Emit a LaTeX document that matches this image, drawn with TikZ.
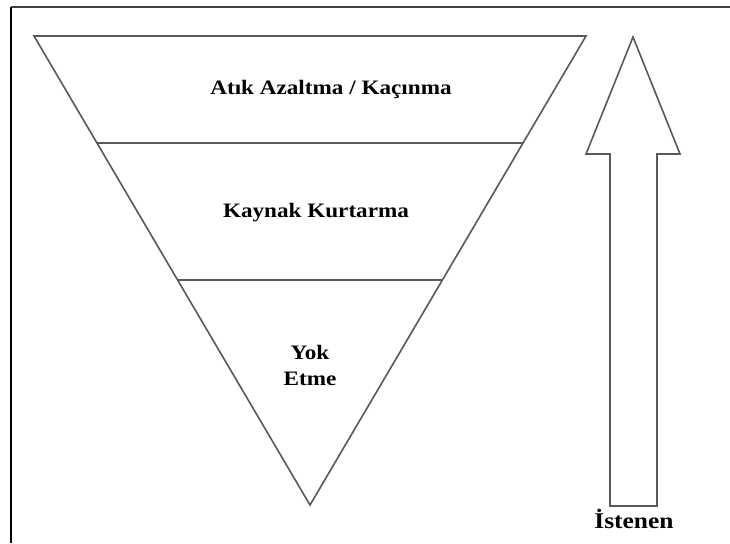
\documentclass[tikz,border=0pt]{standalone}
\usepackage{fontspec}
\setmainfont[FakeStretch=1.13]{Liberation Serif}
\begin{document}
\begin{tikzpicture}[x=1pt,y=-1pt,
  shape line/.style={draw=black!65, line width=1.6pt, line join=miter},
  frame line/.style={draw=black!75, line width=2pt},
  label text/.style={font=\fontsize{20.5}{25}\selectfont\bfseries, text=black, anchor=base, inner sep=0pt}]
\useasboundingbox[fill=white] (0,0) rectangle (730,543);
% frame
\coordinate (ftl) at (11,7.5);
\coordinate (ftr) at (730,7.5);
\coordinate (fbl) at (11,543);
\draw[frame line] (ftr) -- (ftl);
\draw[draw=black, line width=2pt] (ftl) -- (fbl);
% triangle
\coordinate (tl) at (34,36);
\coordinate (tr) at (586,36);
\coordinate (apex) at (310,505);
\draw[shape line] (tl) -- (tr) -- (apex) -- cycle;
\coordinate (d1l) at (97,143);
\coordinate (d1r) at (523,143);
\coordinate (d2l) at (177,280);
\coordinate (d2r) at (443,280);
\draw[shape line] (d1l) -- (d1r);
\draw[shape line] (d2l) -- (d2r);
% labels
\node[label text] (l1) at (331,94) {Atık Azaltma / Kaçınma};
\node[label text] (l2) at (316,217) {Kaynak Kurtarma};
\node[label text] (l3) at (310,359) {Yok};
\node[label text] (l3b) at (310,385) {Etme};
% arrow
\coordinate (at) at (633,37);
\coordinate (ahr) at (680,154);
\coordinate (asr) at (657,154);
\coordinate (abr) at (657,506);
\coordinate (abl) at (610,506);
\coordinate (asl) at (610,154);
\coordinate (ahl) at (586,154);
\draw[shape line] (at) -- (ahr) -- (asr) -- (abr) -- (abl) -- (asl) -- (ahl) -- cycle;
\node[label text, font=\fontsize{22.5}{25}\selectfont\bfseries] (l4) at (634,528) {İstenen};
\end{tikzpicture}
\end{document}
